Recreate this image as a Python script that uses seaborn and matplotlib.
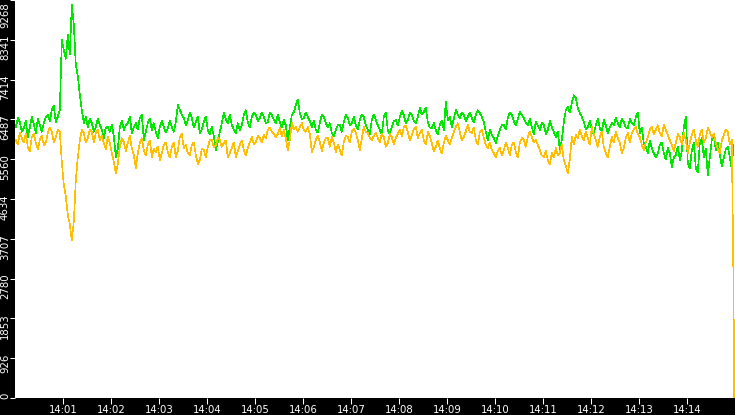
import matplotlib
matplotlib.use("Agg")
import matplotlib.pyplot as plt
import matplotlib.dates as mdates
from matplotlib.transforms import ScaledTranslation
import seaborn as sns
import pandas as pd

# main samples every 5 s from 14:00:01, in-between samples 2.5 s later
start = "2024-01-01 14:00:01"
start_mid = "2024-01-01 14:00:03.5"

green_vals = [
    6310, 6427, 6287, 6077, 6543, 6170, 6357, 6403, 6590, 6706, 6427, 6706,
    8104, 8453, 9152, 7755, 7056,
    6403, 6310, 6403, 6310, 6357, 6054, 6310, 6357, 5611, 6310, 6240, 6403,
    6170, 6403, 6520, 6007, 6403, 6240, 6194, 6310, 6310, 6287, 6310, 6427,
    6706, 6520, 6473, 6520,
    6427, 6170, 6427, 6240, 6310, 5775, 6194, 6636, 6403, 6357, 6170, 6240,
    6590, 6427, 6543, 6590, 6520, 6543, 6427, 6590, 6403, 6427, 6473, 6007,
    6590, 6823, 6636, 6520, 6543, 6310, 6240, 6403, 6543, 6310, 6170, 6240,
    6357, 6427, 6520, 6403, 6357, 6473, 6543, 6240, 6473,
    6473, 6240, 6543, 6240, 6310, 6473, 6543, 6590, 6473, 6590, 6403, 6753,
    6660, 6427, 6287, 6240, 6357, 6240, 6473, 6310, 6706, 6520, 6590, 6543,
    6520, 6590, 6636, 6427, 6007, 6124, 5937, 6240, 6357, 6520, 6590, 6357,
    6660, 6520, 6357, 6310, 6427, 6240, 6357, 6240, 6310,
    6077, 5775, 6427, 6777, 6870, 6986, 6636, 6427, 6310, 6240, 6357, 6287,
    6473, 6170, 6403, 6520, 6310, 6427, 6287, 6403, 6543, 6170, 5937, 5705,
    5821, 5611, 5891, 5705, 5821, 5379, 5658, 5542, 6310, 5472, 5775, 5355,
    5937, 5611, 5193, 6007, 5775, 5658, 5589, 5844, 5309,
]
green_mid = [
    6520, 6200, 6450, 6300, 6380, 6500, 6200, 6550, 6450, 6800, 6550, 8337,
    7900, 8000, 8700, 7500, 6700, 6550, 6500, 6200, 6500, 6250, 6300, 6200,
    6100, 5800, 6450, 6350, 6550, 6300, 6250, 6600, 6200, 6500, 6400, 6050,
    6450, 6180, 6450, 6200, 6820, 6600, 6350, 6650, 6300,
    6550, 6250, 6550, 6150, 6100, 5950, 6400, 6500, 6600, 6250, 6400, 6350,
    6700, 6300, 6650, 6450, 6650, 6400, 6650, 6480, 6600, 6300, 6350, 6300,
    6650, 6950, 6500, 6650, 6450, 6450, 6180, 6600, 6400, 6400, 6100, 6350,
    6200, 6600, 6350, 6550, 6250, 6600, 6350, 6150, 6600,
    6350, 6150, 6650, 6150, 6450, 6350, 6680, 6400, 6650, 6450, 6550, 6600,
    6750, 6300, 6400, 6150, 6450, 6890, 6550, 6500, 6600, 6650, 6450, 6650,
    6420, 6700, 6550, 6200, 6250, 6050, 6100, 6350, 6250, 6650, 6450, 6500,
    6600, 6400, 6500, 6150, 6350, 6400, 6150, 6450, 6200,
    6200, 6000, 6700, 6650, 7050, 6750, 6550, 6250, 6450, 6150, 6500, 6200,
    6350, 6300, 6350, 6400, 6500, 6300, 6500, 6350, 6650, 6300, 5850, 6000,
    5700, 5700, 5950, 5550, 5700, 5600, 5850, 5750, 6550, 5350, 5950, 5250,
    6050, 5800, 5600, 6150, 5950, 5400, 5800, 5600,
]
green_tail = [5900]

orange_vals = [
    6007, 6170, 5961, 5844, 6077, 5937, 6007, 5891, 6170, 6194, 6077, 6194,
    4960, 4261, 3680, 5076, 6007,
    6170, 6054, 6194, 6170, 6007, 5937, 6077, 5705, 5239, 5844, 5961, 5937,
    5821, 5355, 5937, 5775, 5891, 5611, 5728, 5542, 5891, 5728, 5844, 5611,
    6077, 5821, 5705, 5891,
    5658, 5542, 5775, 5844, 6007, 5891, 6007, 5937, 5611, 5821, 5611, 5891,
    5775, 5821, 6077, 5961, 6054, 6124, 6240, 6194, 6077, 6287, 6240, 5775,
    6403, 6310, 6310, 6240, 6310, 5728, 6007, 5961, 5937, 6054, 6077, 5728,
    5775, 5961, 6077, 6194, 6170, 5775, 6310, 6170, 6007,
    6170, 5961, 6077, 5937, 6077, 6054, 6240, 6310, 6194, 6124, 6310, 6170,
    6007, 6194, 5937, 5844, 5821, 5937, 6007, 6054, 6310, 6194, 6077, 6357,
    6170, 6007, 6194, 6054, 5821, 5775, 5611, 5821, 5775, 5821, 5891, 5728,
    5937, 6007, 6077, 6077, 6007, 5775, 5611, 5542, 5705,
    5821, 5705, 5542, 5239, 6077, 6124, 6240, 6007, 6054, 6310, 6007, 6077,
    5844, 5611, 6077, 6194, 5937, 5821, 6170, 6170, 6310, 6077, 5775, 6077,
    6310, 6240, 6170, 6357, 6124, 5891, 5937, 6077, 6170, 5705, 6124, 6007,
    6124, 5961, 6287, 6077, 5937, 5705, 6124, 6194, 6007,
]
orange_mid = [
    5900, 6050, 6150, 5750, 6150, 5800, 6100, 5950, 6300, 5950, 6250, 5500,
    4700, 4050, 4100, 5600, 6250, 5950, 6250, 5950, 6250, 6100, 5800, 5950,
    5500, 5450, 6050, 5750, 6100, 5650, 5700, 6050, 5650, 6000, 5800, 5850,
    5700, 5950, 5600, 5950, 5750, 6150, 5900, 5650, 5950,
    5450, 5800, 5600, 6000, 5850, 6050, 5850, 6000, 5700, 5950, 5750, 6000,
    5650, 5950, 5900, 6100, 5950, 6050, 6300, 6150, 6150, 6100, 6050, 6000,
    6250, 6200, 6400, 6200, 6150, 5850, 6100, 5750, 6050, 5850, 5950, 5900,
    5650, 6100, 5950, 6280, 6000, 6050, 6200, 6050, 6100,
    6050, 6150, 5850, 6150, 5900, 6150, 6100, 6350, 6000, 6250, 6050, 6250,
    5900, 6100, 5750, 6000, 5700, 6100, 5900, 6200, 6400, 6000, 6200, 6200,
    6300, 5900, 6250, 5900, 5950, 5700, 5750, 5650, 5950, 5650, 5950, 5600,
    6050, 5850, 6200, 5950, 5900, 5650, 5750, 5450, 5600,
    5650, 5900, 5400, 5550, 5900, 6050, 6100, 6200, 5900, 6150, 5850, 6200,
    5700, 5850, 5950, 6050, 5700, 6050, 5950, 6250, 6150, 5900, 5950, 6250,
    6150, 6350, 6100, 6250, 6000, 5750, 6150, 5900, 6000, 5950, 6250, 5850,
    6250, 6050, 6200, 6150, 5800, 6000, 6250, 5900,
]
orange_tail = [2900, 0]

tail_times = ["2024-01-01 14:14:58", "2024-01-01 14:14:59"]
y_ticks = [0, 926, 1853, 2780, 3707, 4634, 5560, 6487, 7414, 8341, 9268]


def series_frame(name, vals, mids, tail):
    t_main = pd.date_range(start, periods=len(vals), freq="5s")
    t_mid = pd.date_range(start_mid, periods=len(mids), freq="5s")
    t_tail = pd.to_datetime(tail_times[:len(tail)])
    df = pd.DataFrame({
        "time": list(t_main) + list(t_mid) + list(t_tail),
        "value": vals + mids + tail,
    })
    df["series"] = name
    return df.sort_values("time")


def main():
    df = pd.concat([
        series_frame("in", green_vals, green_mid, green_tail),
        series_frame("out", orange_vals, orange_mid, orange_tail),
    ], ignore_index=True)

    sns.set_style("white")
    plt.rcParams["font.family"] = ["DejaVu Sans"]

    fig = plt.figure(figsize=(7.35, 4.15), dpi=100, facecolor="black")
    ax = fig.add_axes([15 / 735, 17 / 415, 720 / 735, 398 / 415])
    ax.set_facecolor("white")

    sns.lineplot(data=df, x="time", y="value", hue="series",
                 hue_order=["in", "out"],
                 palette={"in": "#00e600", "out": "#ffbf00"},
                 estimator=None, sort=False, linewidth=0.45,
                 antialiased=False, legend=False, ax=ax)

    ax.set_xlim(pd.Timestamp("2024-01-01 14:00:00"), pd.Timestamp("2024-01-01 14:15:00"))
    ax.set_ylim(0, 9268)
    ax.xaxis.set_major_locator(mdates.MinuteLocator(byminute=range(1, 15)))
    ax.xaxis.set_major_formatter(mdates.DateFormatter("%H:%M"))
    ax.set_yticks(y_ticks, [str(t) for t in y_ticks])
    ax.set_xlabel("")
    ax.set_ylabel("")
    for s in ax.spines.values():
        s.set_visible(False)

    ax.tick_params(colors="white", labelsize=7.3, width=0.75, direction="out",
                   bottom=True, left=True)
    ax.tick_params(axis="x", length=4, pad=1)
    ax.tick_params(axis="y", length=3.6, pad=0, labelrotation=90)

    # rotated y labels hang just below their tick
    labels = ax.get_yticklabels()
    for i, lab in enumerate(labels):
        lab.set_va("top")
        dy = 0.05 if i < len(labels) - 1 else -0.02
        lab.set_transform(lab.get_transform() + ScaledTranslation(0, dy, fig.dpi_scale_trans))

    fig.savefig("out.png", dpi=100, facecolor="black")


if __name__ == "__main__":
    main()
